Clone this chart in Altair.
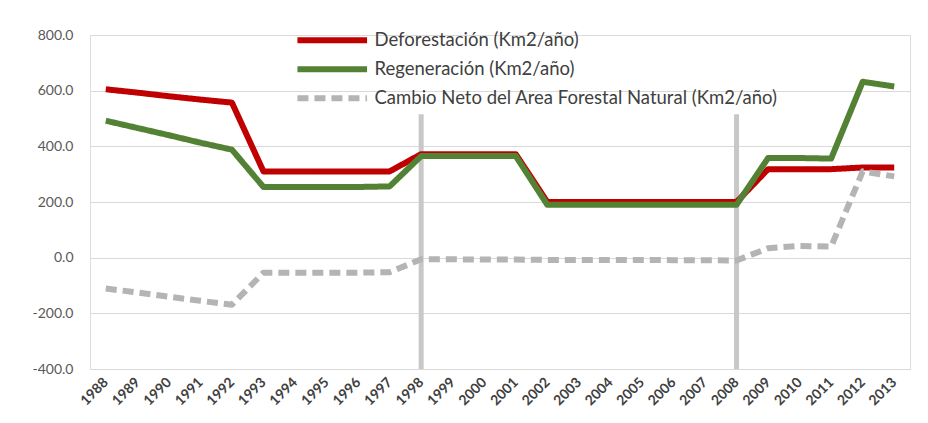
import altair as alt
import pandas as pd

years = [str(y) for y in range(1988, 2014)]
deforestacion = [605, 593, 580, 568, 557, 310, 310, 310, 310, 310,
                 372, 372, 372, 372, 200, 200, 200, 200, 200, 200,
                 200, 318, 318, 318, 324, 324]
regeneracion = [492, 466, 440, 413, 388, 254, 254, 254, 254, 256,
                365, 365, 365, 365, 190, 190, 190, 190, 190, 190,
                190, 358, 358, 356, 632, 615]
cambio_neto = [-111, -125, -140, -155, -169, -54, -54, -54, -54, -52,
               -6, -6, -7, -7, -8, -8, -8, -8, -9, -9,
               -10, 34, 42, 40, 310, 292]
series_names = ["Deforestación (Km2/año)", "Regeneración  (Km2/año)",
                "Cambio Neto del Area Forestal Natural (Km2/año)"]
series_colors = ["#C00000", "#548235", "#B4B4B4"]
marker_years = ["1998", "2008"]
marker_low = [-400, -400]
marker_high = [515, 515]

rows = []
for name, vals in zip(series_names, [deforestacion, regeneracion, cambio_neto]):
    for y, v in zip(years, vals):
        rows.append({"year": y, "value": v, "serie": name})
df = pd.DataFrame(rows)
markers = pd.DataFrame({"year": marker_years, "low": marker_low, "high": marker_high})

FONT = "Lato"

x_scale = alt.Scale(type="point", padding=0.5, domain=years)
x_enc = alt.X("year:O", sort=years, scale=x_scale,
              axis=alt.Axis(title=None, labelAngle=-45, labelFontSize=14,
                            labelFontWeight="bold", labelColor="#404040",
                            domain=False, ticks=False, grid=False,
                            labelPadding=11, labelFont=FONT))
y_scale = alt.Scale(domain=[-400, 800], nice=False)

legend_kw = dict(title=None, orient="none", legendX=233, legendY=-4,
                 symbolType="M-5.8,0H5.8", symbolSize=144,
                 symbolStrokeWidth=6, labelFontSize=18.5,
                 labelFont=FONT, labelColor="#404040",
                 rowPadding=4, labelOffset=33, labelLimit=600)

rules = alt.Chart(markers).mark_rule(color="#C8C8C8", strokeWidth=5).encode(
    x=alt.X("year:O", sort=years, scale=x_scale),
    y=alt.Y("low:Q", scale=y_scale),
    y2="high:Q",
)

lines = alt.Chart(df).mark_line(strokeWidth=6, strokeCap="butt", strokeJoin="round").encode(
    x=x_enc,
    y=alt.Y("value:Q", scale=y_scale,
            axis=alt.Axis(title=None, values=[-400, -200, 0, 200, 400, 600, 800],
                          labelExpr="replace(format(datum.value, '.1f'), '\u2212', '-')",
                          labelFontSize=14, labelColor="#595959",
                          labelFont=FONT, domain=False, ticks=False,
                          gridColor="#D9D9D9", gridWidth=1, labelPadding=17)),
    color=alt.Color("serie:N", sort=series_names,
                    scale=alt.Scale(domain=series_names, range=series_colors),
                    legend=alt.Legend(**legend_kw)),
    strokeDash=alt.StrokeDash("serie:N", sort=series_names,
                              scale=alt.Scale(domain=series_names,
                                              range=[[1, 0], [1, 0], [11, 6]]),
                              legend=alt.Legend(**legend_kw)),
    order=alt.Order("year:O"),
)

chart = alt.layer(rules, lines).properties(
    width=820, height=334,
    autosize=alt.AutoSizeParams(type="none"),
    padding={"left": 82, "top": 27, "right": 10, "bottom": 46},
).configure_view(stroke=None).configure(background="white")

chart.save("out.html", embed_options={"renderer": "svg", "actions": False})
